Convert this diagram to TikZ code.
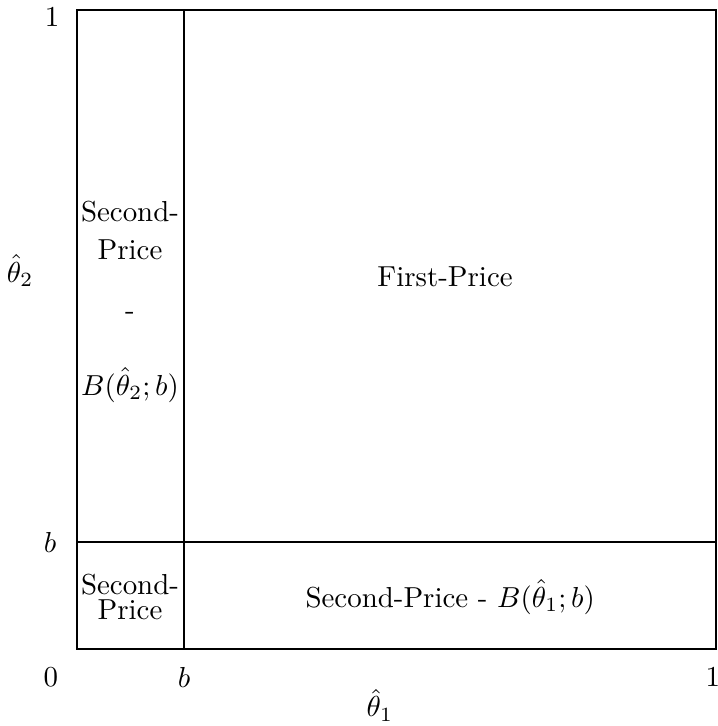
\documentclass[tikz,border=0pt]{standalone}
\usepackage{amsmath, amssymb}
\usepackage{tikz}
\usetikzlibrary{positioning, calc}

\begin{document}
\begin{tikzpicture}[
        x=7.77cm, y=7.77cm,
        edge/.style={semithick},
        region/.style={align=center, inner sep=1pt},
        tick/.style={inner sep=1pt}
    ]
    \useasboundingbox (-0.1205,-0.1205) rectangle (1.0031,1.0156);

    % ---- Unit square with the two threshold lines at b ----
    \coordinate (O)   at (0,0);
    \coordinate (TR)  at (1,1);
    \coordinate (Bb)  at (0.1675,0);
    \coordinate (Bt)  at (0.1675,1);
    \coordinate (Lb)  at (0,0.1675);
    \coordinate (Rb)  at (1,0.1675);
    \draw[edge] (O) rectangle (TR);
    \draw[edge] (Bb)--(Bt); \draw[edge] (Lb)--(Rb);

    % ---- Axis ticks and labels ----
    \node[tick] (y1) at (-0.039, 0.989) {$1$};
    \node[tick] (yb) at (-0.042, 0.166) {$b$};
    \node[tick] (x0) at (-0.041,-0.044) {$0$};
    \node[tick] (xb) at ( 0.1675,-0.044) {$b$};
    \node[tick] (x1) at ( 0.995,-0.044) {$1$};
    \node[tick] (xlab) at (0.474,-0.088) {$\hat{\theta}_1$};
    \node[tick] (ylab) at (-0.089, 0.592) {$\hat{\theta}_2$};

    % ---- Regions ----
    \node[region] (fp) at (0.576, 0.582) {First-Price};
    \node[region] (spx) at (0.584, 0.081) {Second-Price - $B(\hat{\theta}_1;b)$};
    \node[region] (sp0) at (0.083, 0.082) {Second-\\[-3.4pt]Price};

    % left column, stacked by hand
    \node[region] (spy1) at (0.083, 0.685) {Second-};
    \node[region] (spy2) at (0.083, 0.624) {Price};
    \node[region] (spy3) at (0.083, 0.521) {-};
    \node[region] (spy4) at (0.083, 0.413) {$B(\hat{\theta}_2;b)$};

\end{tikzpicture}
\end{document}
